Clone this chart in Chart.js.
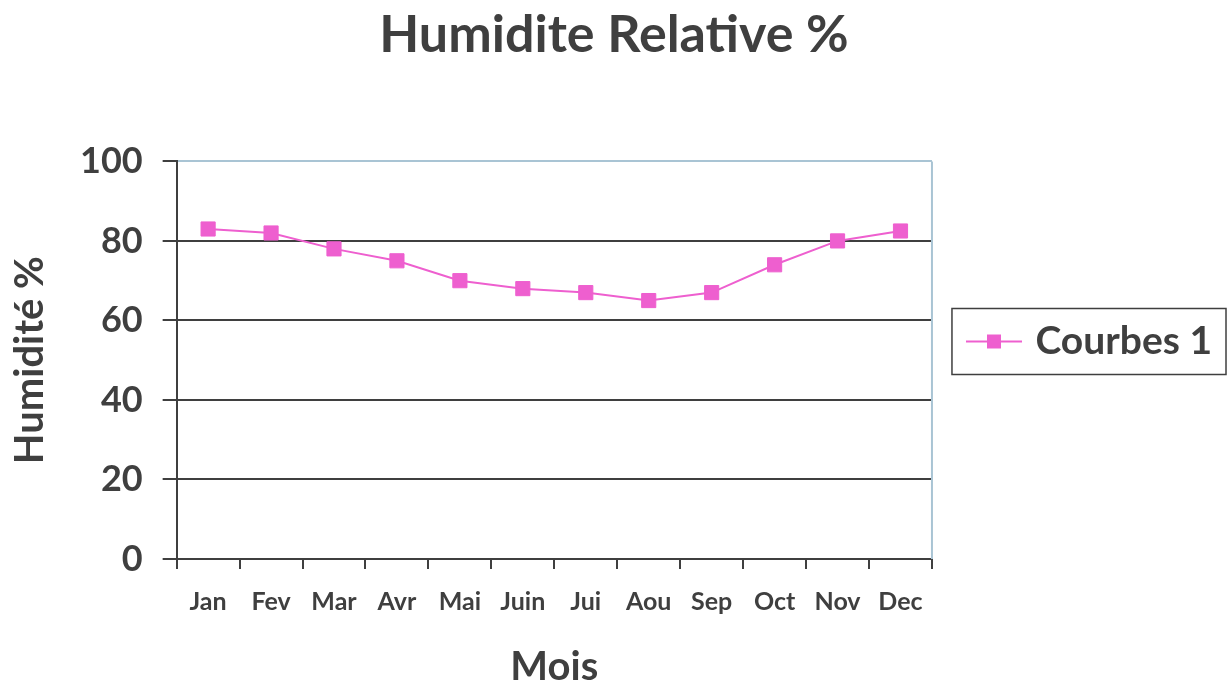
<!DOCTYPE html>
<html>
<head>
<meta charset="utf-8">
<script src="https://cdn.jsdelivr.net/npm/chart.js@4.4.0/dist/chart.umd.min.js"></script>
<style>
  html, body { margin: 0; padding: 0; background: #fff; }
  #wrap { width: 1232px; height: 683px; }
</style>
</head>
<body>
<div id="wrap"><canvas id="chart"></canvas></div>
<script>
const mois = ["Jan", "Fev", "Mar", "Avr", "Mai", "Juin", "Jui", "Aou", "Sep", "Oct", "Nov", "Dec"];
const humidite = [83, 82, 78, 75, 70, 68, 67, 65, 67, 74, 80, 82.5];
const yTicks = [0, 20, 40, 60, 80, 100];

const ink = '#3f3f3f';
const pink = '#ee5fcf';
const paleBlue = '#a9c4d4';
const font = 'Lato, "Open Sans", sans-serif';

// legend marker: short line with a square in the middle
const marker = document.createElement('canvas');
marker.width = 56;
marker.height = 16;
const m = marker.getContext('2d');
m.strokeStyle = pink;
m.lineWidth = 2;
m.beginPath();
m.moveTo(0, 8);
m.lineTo(56, 8);
m.stroke();
m.fillStyle = pink;
m.fillRect(21, 1, 14, 14);

// border round the legend + pale right edge of the plot
const frame = {
  id: 'frame',
  afterDraw(chart) {
    const ctx = chart.ctx;
    const a = chart.chartArea;
    ctx.save();
    ctx.strokeStyle = paleBlue;
    ctx.lineWidth = 2;
    ctx.beginPath();
    ctx.moveTo(a.right, a.top);
    ctx.lineTo(a.right, a.bottom);
    ctx.stroke();

    const lg = chart.legend;
    if (lg && lg.legendHitBoxes.length) {
      const hb = lg.legendHitBoxes[0];
      const cy = hb.top + hb.height / 2;
      ctx.strokeStyle = ink;
      ctx.lineWidth = 1.5;
      ctx.strokeRect(hb.left - 20, cy - 33, hb.width + 34, 66);
    }
    ctx.restore();
  }
};

new Chart(document.getElementById('chart'), {
  type: 'line',
  data: {
    labels: mois,
    datasets: [{
      label: 'Courbes 1',
      data: humidite,
      borderColor: pink,
      backgroundColor: pink,
      borderWidth: 2,
      pointStyle: 'rect',
      pointRadius: 10,
      pointHoverRadius: 10,
      pointBorderWidth: 1,
      tension: 0
    }]
  },
  options: {
    responsive: true,
    maintainAspectRatio: false,
    animation: false,
    layout: { padding: { top: 0, right: 10, bottom: 0, left: 6 } },
    plugins: {
      title: {
        display: true,
        text: 'Humidite Relative %',
        color: ink,
        font: { family: font, size: 52, weight: 'bold' },
        padding: { top: 4, bottom: 95 }
      },
      legend: {
        position: 'right',
        labels: {
          color: ink,
          font: { family: font, size: 39, weight: 'bold' },
          usePointStyle: true,
          pointStyle: marker,
          pointStyleWidth: 44,
          boxHeight: 16,
          padding: 40
        }
      },
      tooltip: { enabled: false }
    },
    scales: {
      x: {
        offset: true,
        grid: {
          offset: true,
          drawOnChartArea: false,
          tickLength: 10,
          tickColor: ink,
          lineWidth: 2
        },
        border: { color: ink, width: 2 },
        ticks: {
          color: ink,
          font: { family: font, size: 25, weight: 'bold' },
          padding: 18,
          maxRotation: 0,
          autoSkip: false
        },
        title: {
          display: true,
          text: 'Mois',
          color: ink,
          font: { family: font, size: 40, weight: 'bold', lineHeight: 0.8 },
          padding: { top: 16, bottom: 0 }
        }
      },
      y: {
        min: 0,
        max: 100,
        afterBuildTicks(axis) {
          axis.ticks = yTicks.map(v => ({ value: v }));
        },
        grid: {
          color: ctx => ctx.tick && ctx.tick.value === 100 ? paleBlue : ink,
          tickColor: ink,
          tickLength: 14,
          lineWidth: 2
        },
        border: { color: ink, width: 2 },
        ticks: {
          color: ink,
          font: { family: font, size: 36, weight: 'bold' },
          padding: 20
        },
        title: {
          display: true,
          text: 'Humidité %',
          color: ink,
          font: { family: font, size: 40, weight: 'bold' },
          padding: { top: 0, bottom: 6 }
        }
      }
    }
  },
  plugins: [frame]
});
</script>
</body>
</html>
